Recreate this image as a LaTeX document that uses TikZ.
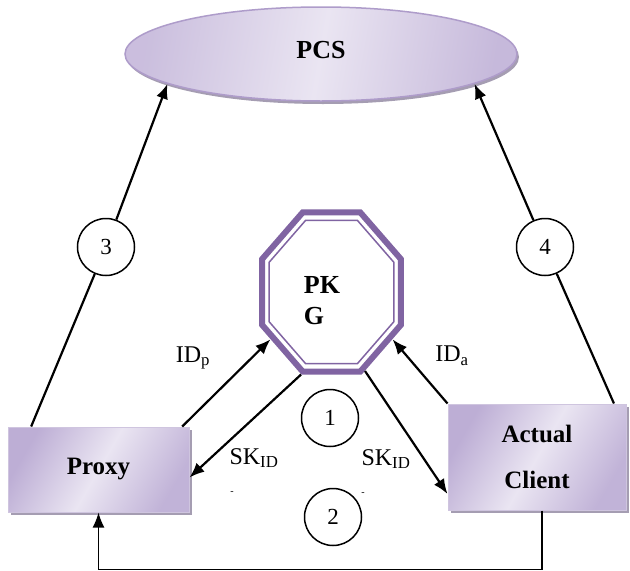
\documentclass[tikz,border=0pt]{standalone}
\usepackage{fontspec}
\setmainfont{Liberation Serif}
\usetikzlibrary{arrows.meta,calc,shapes.geometric,shadows}
\definecolor{PKGPurple}{HTML}{8064A2}
\definecolor{BoxDark}{HTML}{BDAED5}
\definecolor{BoxLight}{HTML}{EAE5F2}
\definecolor{BoxEdge}{HTML}{CFC5DF}
\definecolor{BoxShadow}{HTML}{A59DB2}
\definecolor{PCSEdge}{HTML}{AE9CCA}

\begin{document}
\begin{tikzpicture}[x=1pt,y=-1pt,>={Latex[length=15pt,width=12pt]},
 entity/.style={rectangle,draw=BoxEdge,line width=1pt,left color=BoxDark,right color=BoxDark!90!BoxLight,middle color=BoxLight,shading angle=60,drop shadow={shadow xshift=3pt,shadow yshift=-3pt,fill=BoxShadow,opacity=1},align=center,inner sep=0pt,font=\fontsize{25}{46}\selectfont\bfseries},
 server/.style={ellipse,draw=PCSEdge,line width=1.5pt,left color=BoxDark!70!BoxLight,right color=BoxDark!80!BoxLight,middle color=BoxLight,shading angle=80,drop shadow={shadow xshift=2pt,shadow yshift=-3pt,fill=BoxShadow,opacity=1},inner sep=0pt,font=\fontsize{26}{30}\selectfont\bfseries},
 octa/.style={regular polygon,regular polygon sides=8,minimum size=#1,yscale=1.15,transform shape,draw=PKGPurple,inner sep=0pt},
 stage/.style={circle,draw,line width=1.5pt,minimum size=57pt,inner sep=0pt,font=\fontsize{23}{26}\selectfont},
 lbl/.style={inner sep=0pt,font=\fontsize{24}{28}\selectfont},
 link/.style={line width=2.2pt}]
\useasboundingbox (0,0) rectangle (630,571);
% entities
\node[server,minimum width=392pt,minimum height=94pt] (pcs) at (321,54) {\raisebox{8pt}{PCS}};
\node[octa=150pt,line width=6pt] (pkg) at (331.5,292) {};
\node[octa=135pt,line width=1.5pt] (pkginner) at (pkg) {};
\node[align=left,inner sep=0pt,font=\fontsize{26}{31}\selectfont\bfseries] (pkgtext) at (322,301) {PK\\G};
\node[entity,minimum width=181pt,minimum height=85pt] (proxy) at (98.5,469.5) {Proxy};
\node[entity,minimum width=178pt,minimum height=106pt] (client) at (537,457) {Actual\\Client};
% numbered steps
\node[stage] (c1) at (330,418) {1};
\node[stage] (c2) at (333,517) {2};
\node[stage] (c3) at (106,247) {3};
\node[stage] (c4) at (545,247) {4};
% labels
\node[lbl] (idp) at (193,358) {ID\textsubscript{p}};
\node[lbl] (ida) at (452,356) {ID\textsubscript{a}};
\node[lbl] (skp) at (254,458) {SK\textsubscript{ID}};
\node[lbl] (skc) at (386,459) {SK\textsubscript{ID}};
\node[lbl,font=\fontsize{10}{12}\selectfont] (dashp) at (232,493) {-};
\node[lbl,font=\fontsize{10}{12}\selectfont] (dashc) at (363,494) {-};
% connectors
\draw[link] ($(proxy.north west)!0.13!(proxy.north east)$) -- (c3);
\draw[link,->] (c3) -- (pcs.191);
\draw[link] ($(client.north west)!0.93!(client.north east)$) -- (c4);
\draw[link,->] (c4) -- (pcs.349);
\draw[link,->] ($(proxy.north west)!0.96!(proxy.north east)$) -- (pkg.214);
\draw[link,->] (pkg.247) -- ($(proxy.east)+(0,8)$);
\draw[link,->] (pkg.296) -- ($(client.west)+(0,37)$);
\draw[link,->] (client.north west) -- (pkg.326);
\draw[line width=1.5pt,->] ($(client.south)+(5,0)$) |- ($(proxy.south)+(0,57)$) -- (proxy.south);
\end{tikzpicture}
\end{document}
